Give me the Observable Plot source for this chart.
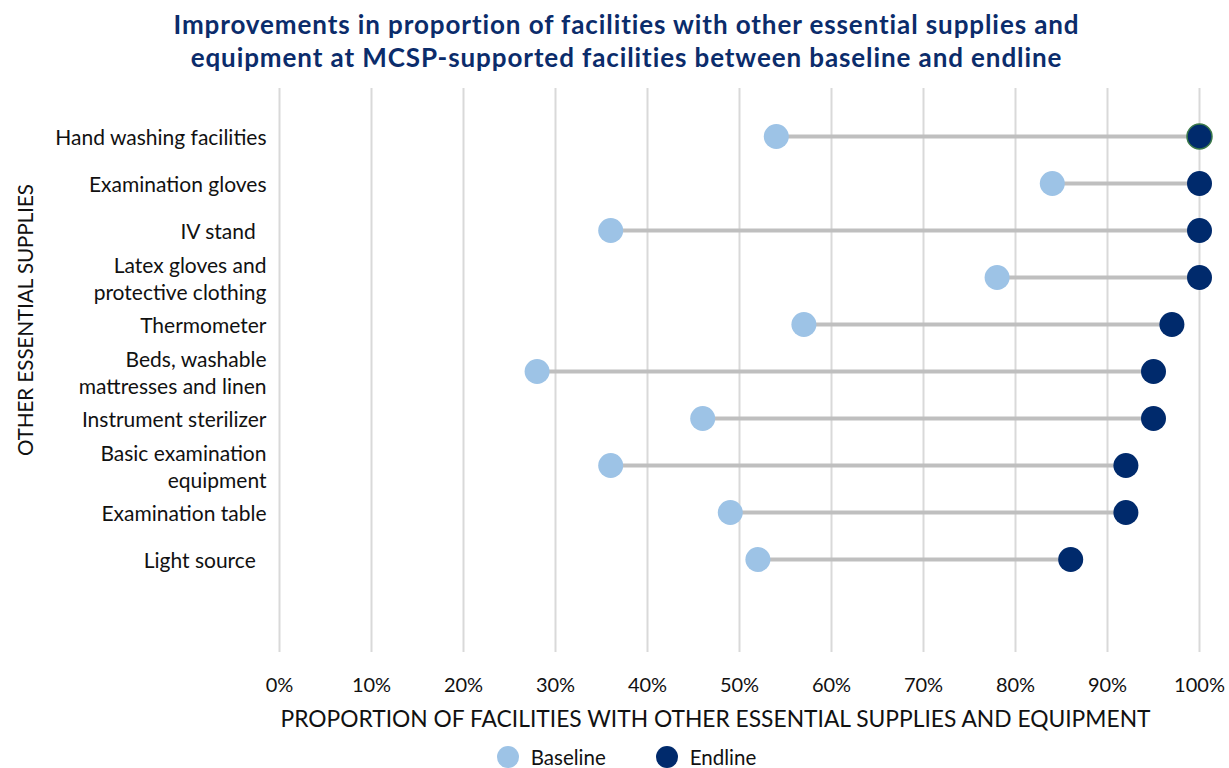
<!DOCTYPE html>
<html>
<head>
<meta charset="utf-8">
<script src="https://cdn.jsdelivr.net/npm/d3@7"></script>
<script src="https://cdn.jsdelivr.net/npm/@observablehq/plot@0.6"></script>
<style>
  html, body { margin: 0; padding: 0; background: #fff; }
  body { width: 1229px; height: 768px; position: relative; overflow: hidden; font-family: Lato, "Open Sans", sans-serif; }
  #title { text-align: center; color: #0b2c6b; font-weight: bold; font-size: 26px; letter-spacing: 0.9px; line-height: 33px; padding-top: 8px; height: 66px; padding-left: 24px; }
  #ytitle { position: absolute; left: 25px; top: 320px; transform: translate(-50%, -50%) rotate(-90deg); white-space: nowrap; font-size: 20.5px; color: #111; }
  #legend { position: absolute; top: 745px; left: 0; width: 1229px; display: flex; justify-content: center; gap: 50px; font-size: 20.5px; color: #111; padding-left: 24px; box-sizing: border-box; }
  .li { display: flex; align-items: center; gap: 12px; }
  .sw { width: 22px; height: 22px; border-radius: 50%; display: inline-block; }
</style>
</head>
<body>
<div id="title">Improvements in proportion of facilities with other essential supplies and<br>equipment at MCSP-supported facilities between baseline and endline</div>
<div id="chart"></div>
<div id="ytitle">OTHER ESSENTIAL SUPPLIES</div>
<div id="legend"></div>
<script>
const categories = [
  "Hand washing facilities",
  "Examination gloves",
  "IV stand ",
  "Latex gloves and\nprotective clothing",
  "Thermometer",
  "Beds, washable\nmattresses and linen",
  "Instrument sterilizer",
  "Basic examination\nequipment",
  "Examination table",
  "Light source "
];
const baseline = [54, 84, 36, 78, 57, 28, 46, 36, 49, 52];
const endline = [100, 100, 100, 100, 97, 95, 95, 92, 92, 86];
const xTicks = [0, 10, 20, 30, 40, 50, 60, 70, 80, 90, 100];
const xTitle = "PROPORTION OF FACILITIES WITH OTHER ESSENTIAL SUPPLIES AND EQUIPMENT";
const seriesNames = ["Baseline", "Endline"];
const seriesColors = ["#9dc3e6", "#002a6c"];

const rows = categories.map((c, i) => ({category: c, baseline: baseline[i], endline: endline[i]}));

const chart = Plot.plot({
  width: 1229,
  height: 661,
  marginLeft: 279,
  marginRight: 30,
  marginTop: 14,
  marginBottom: 83,
  style: {fontFamily: "Lato, 'Open Sans', sans-serif", fontSize: "21px", color: "#111"},
  x: {domain: [0, 100], ticks: xTicks},
  y: {domain: categories, type: "point", padding: 0, insetTop: 47, insetBottom: 92},
  marks: [
    Plot.gridX(xTicks, {stroke: "#d9d9d9", strokeOpacity: 1, strokeWidth: 2}),
    Plot.axisX(xTicks, {tickSize: 0, tickPadding: 25, fontSize: 20, tickFormat: d => d + "%", fill: "#111", label: null}),
    Plot.text([xTitle], {text: d => d, frameAnchor: "bottom", dy: 74, dx: -24, fontSize: 22.8, fill: "#111"}),
    Plot.axisY({tickSize: 0, tickPadding: 13, label: null, lineHeight: 1.3, tickFormat: d => d.replace(/ $/, "\u00a0\u00a0"), fill: "#111"}),
    Plot.link(rows, {x1: "baseline", x2: "endline", y1: "category", y2: "category", stroke: "#bfbfbf", strokeWidth: 4}),
    Plot.dot(rows, {x: "baseline", y: "category", r: 12.5, fill: seriesColors[0]}),
    Plot.dot(rows, {x: "endline", y: "category", r: 12.5, fill: seriesColors[1]}),
    Plot.dot(rows.filter(d => d.category === categories[0]), {x: "endline", y: "category", r: 12.5, fill: seriesColors[1], stroke: "#3c7a4a", strokeWidth: 1.5})
  ]
});
document.getElementById("chart").appendChild(chart);

const legend = document.getElementById("legend");
seriesNames.forEach((n, i) => {
  const item = document.createElement("div");
  item.className = "li";
  item.innerHTML = `<span class="sw" style="background:${seriesColors[i]}"></span><span>${n}</span>`;
  legend.appendChild(item);
});
</script>
</body>
</html>
